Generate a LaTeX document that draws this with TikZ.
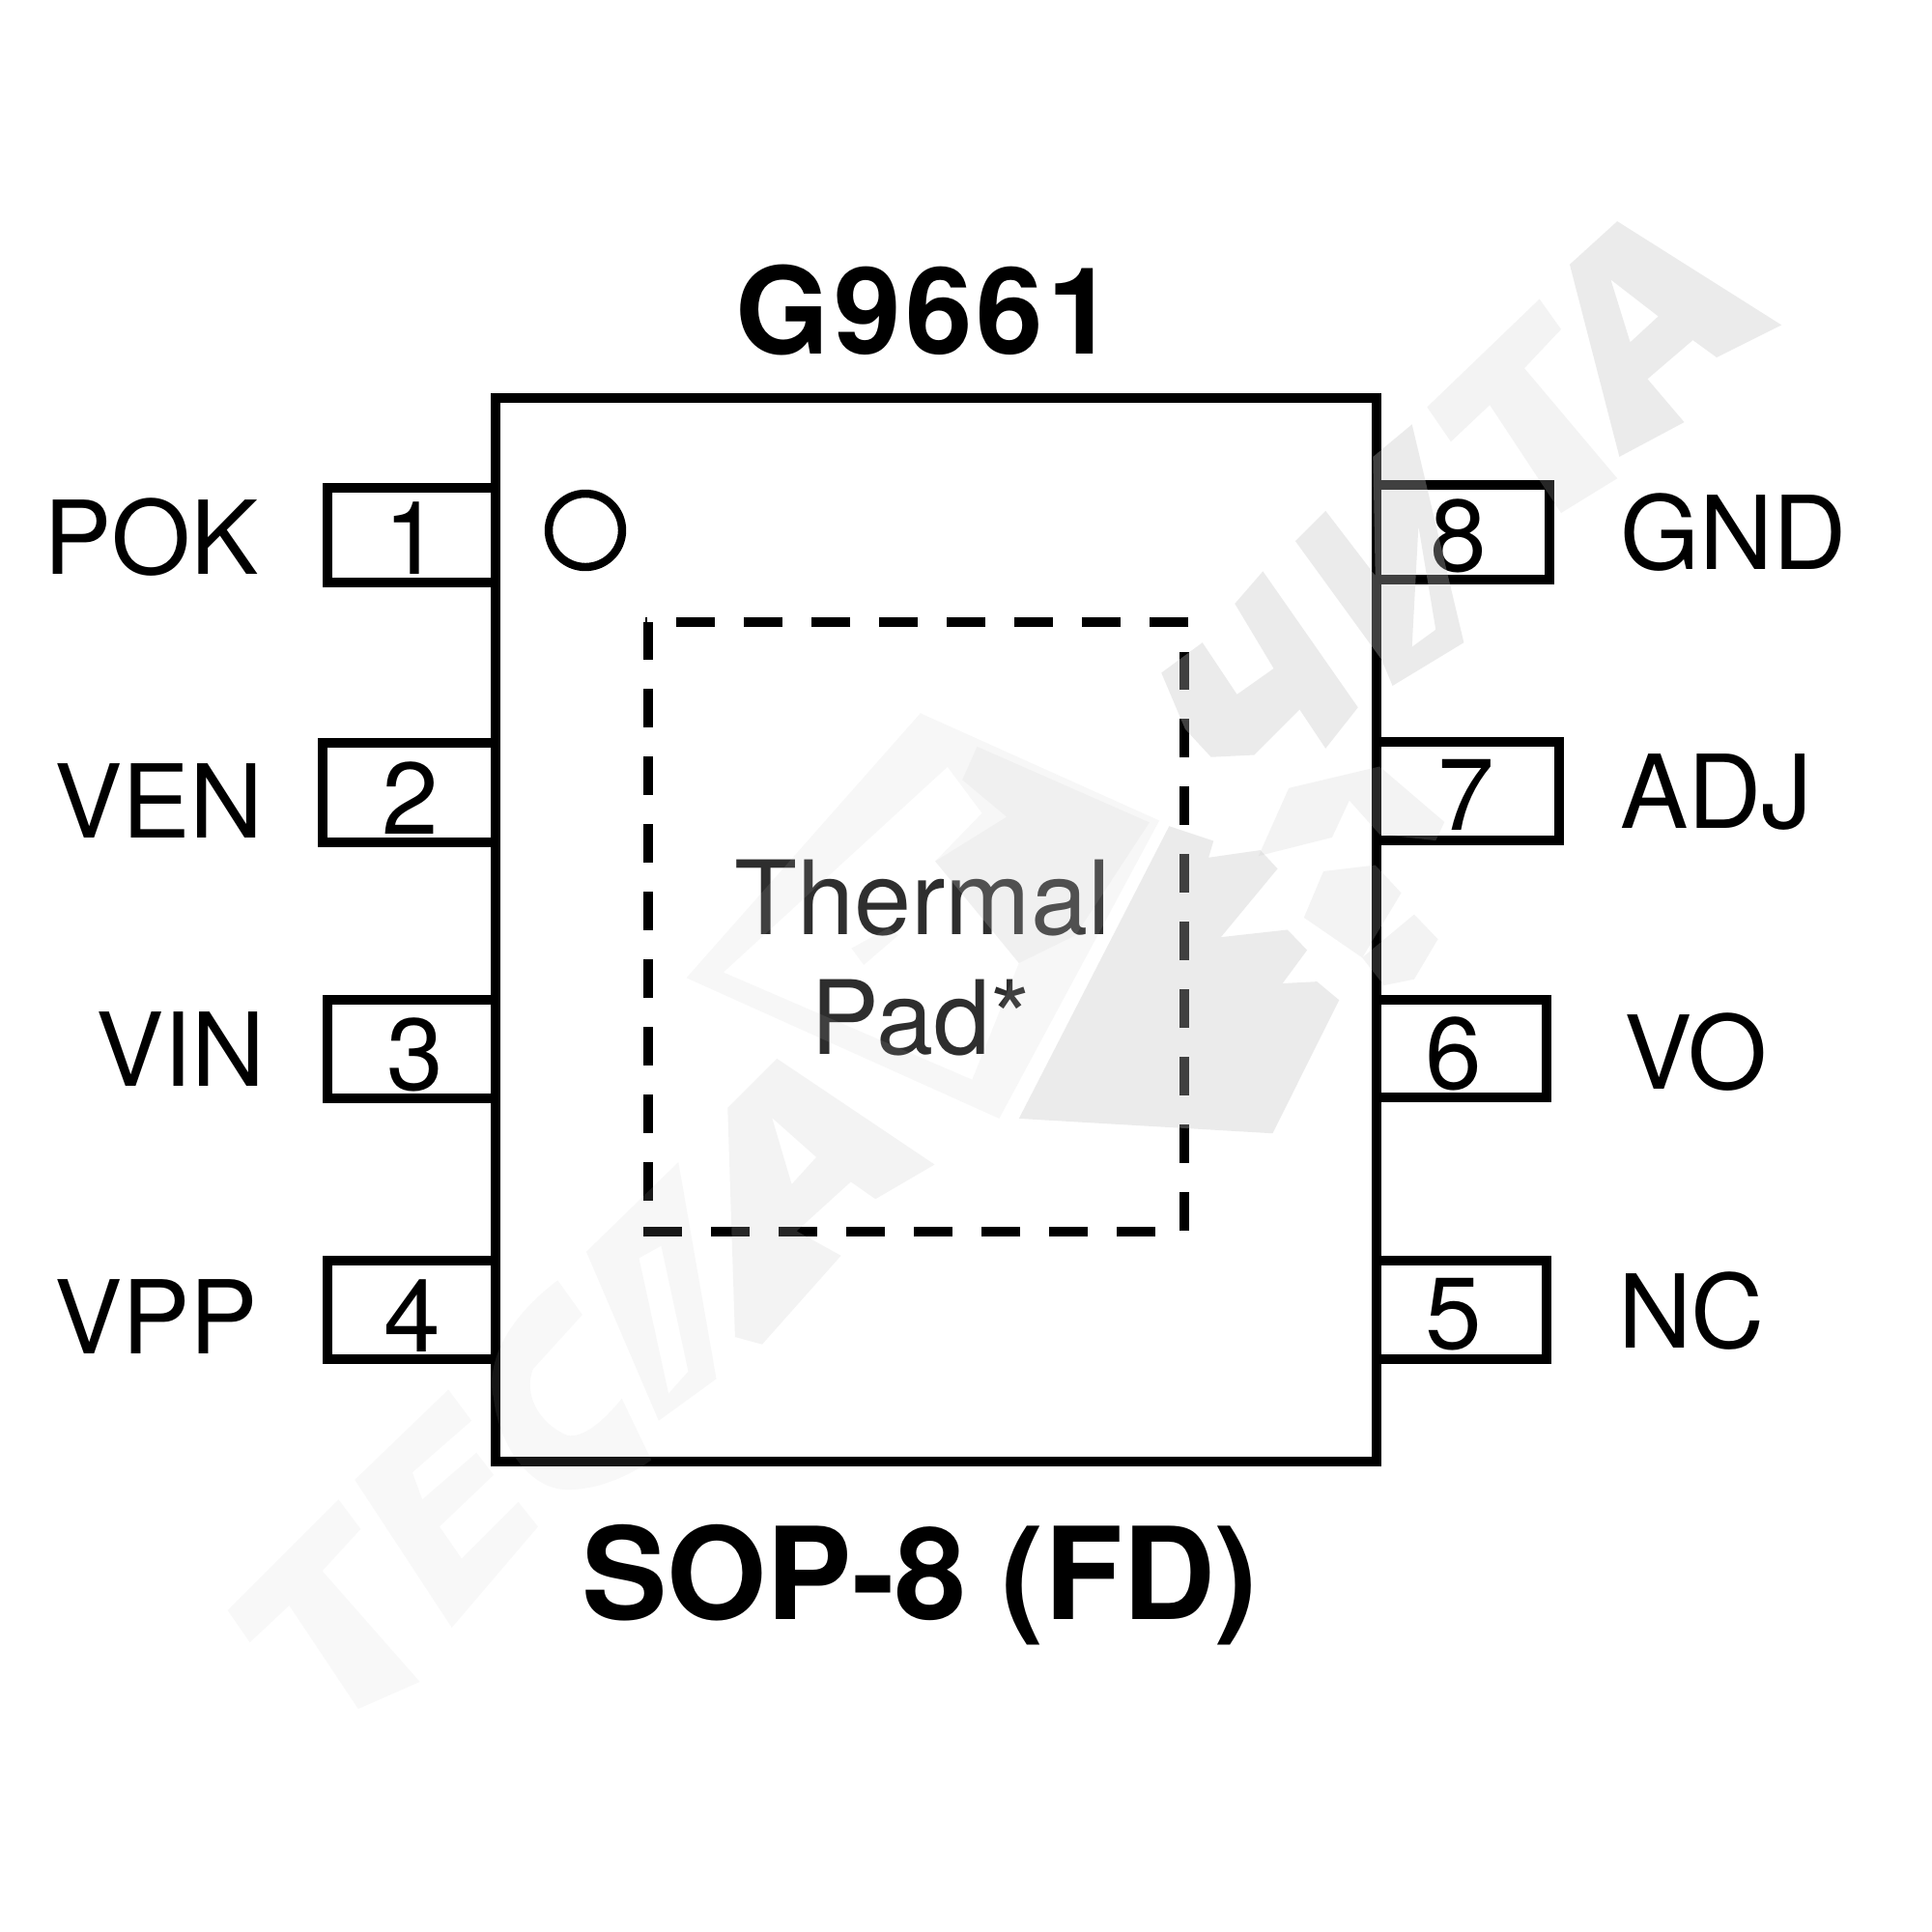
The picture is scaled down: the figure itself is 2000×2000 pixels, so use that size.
\documentclass[tikz,border=0pt]{standalone}
\usepackage{fontspec}
\setmainfont{TeX Gyre Heros}
\tikzset{
  outline/.style={draw=black,line width=2.7pt,fill=white,line join=miter},
  lbl/.style={inner sep=0pt,outer sep=0pt,anchor=base west,font=\fontsize{30}{30}\selectfont},
  lble/.style={lbl,anchor=base east},
  num/.style={inner sep=0pt,outer sep=0pt,anchor=base,font=\fontsize{30}{30}\selectfont},
  pad/.style={inner sep=0pt,outer sep=0pt,anchor=base,text=black!82,font=\fontsize{30.2}{31}\selectfont},
  ttl/.style={inner sep=0pt,outer sep=0pt,anchor=base,font=\fontsize{35.5}{36}\selectfont\bfseries\addfontfeature{LetterSpace=3.5}},
  foot/.style={inner sep=0pt,outer sep=0pt,anchor=base,font=\fontsize{37.7}{38}\selectfont\bfseries},
  padline/.style={line width=2.8pt,dash pattern=on 11.38pt off 8.54pt},
  wm/.style={fill=black!23,fill opacity=.33,even odd rule,draw=none},
  wmf/.style={fill=black!23,fill opacity=.2,even odd rule,draw=none},
  wml/.style={fill=black!23,fill opacity=.12,even odd rule,draw=none},
  wmv/.style={fill=black!23,fill opacity=.11,even odd rule,draw=none},
}
\begin{document}
\begin{tikzpicture}[x=0.01cm,y=-0.01cm]
\useasboundingbox (0,0) rectangle (2000,2000);
\fill[white] (0,0) rectangle (2000,2000);
% pins
\draw[outline] (339,505) rectangle (520,603);
\draw[outline] (334,769) rectangle (520,872);
\draw[outline] (339,1035) rectangle (520,1137);
\draw[outline] (339,1305) rectangle (520,1407);
\draw[outline] (1420,502) rectangle (1604,600);
\draw[outline] (1420,768) rectangle (1614,870);
\draw[outline] (1420,1035) rectangle (1601,1136);
\draw[outline] (1420,1305) rectangle (1601,1407);
% body
\draw[outline] (513,412) rectangle (1425,1513);
\draw[outline,fill=none,line width=2.4pt] (606,549) circle[radius=38];
% thermal pad outline
\draw[padline] (671,1243) -- (671,644);
\draw[padline] (666,1275) -- (1197,1275);
\draw[padline] (1226,1274) -- (1226,675);
\draw[padline] (1230,644) -- (668,644);
% labels
\node[ttl]  (title) at (958,366) {G9661};
\node[foot] (pkg)   at (952,1676) {SOP-8 (FD)};
\node[pad]  (th)    at (955,967) {Thermal};
\node[pad]  (pd)    at (953,1091) {Pad*};
\node[lbl]  (l1) at (45,594) {POK};
\node[lbl]  (l2) at (56,867) {VEN};
\node[lble] (l3) at (275,1124) {VIN};
\node[lbl]  (l4) at (56,1401) {VPP};
\node[lbl]  (l8) at (1677,589) {GND};
\node[lbl]  (l7) at (1677,857) {ADJ};
\node[lbl]  (l6) at (1681,1127) {VO};
\node[lbl]  (l5) at (1675,1395) {NC};
\node[num] (n1) at (427,594) {1};
\node[num] (n2) at (425,863) {2};
\node[num] (n3) at (430,1128) {3};
\node[num] (n4) at (427,1399) {4};
\node[num] (n8) at (1510,591) {8};
\node[num] (n7) at (1518,859) {7};
\node[num] (n6) at (1505,1127) {6};
\node[num] (n5) at (1505,1396) {5};
% watermark, lower-left word
\begin{scope}[shift={(200,1050)},x=0.005102cm,y=-0.005102cm]
\fill[wmv] (70,1210)--(295,985)--(340,1045)--(262,1130)--(460,1355)--(335,1410)--(195,1200)--(115,1275)--cycle;
\fill[wmv] (328,945)--(518,762)--(565,825)--(445,930)--(465,985)--(575,890)--(610,935)--(500,1040)--(545,1105)--(660,990)--(700,1040)--(525,1245)--cycle;
\fill[wmv] (740,540) .. controls (660,600) and (590,690) .. (610,780) .. controls (620,870) and (680,965) .. (760,965) .. controls (820,965) and (880,940) .. (930,905) -- (870,780) .. controls (830,830) and (790,860) .. (760,855) .. controls (700,830) and (670,770) .. (690,720) -- (790,610) -- cycle;
\fill[wml] (798,482)--(985,300)--(1062,740)--(945,825)--cycle (905,495)--(950,470)--(1005,725)--(965,770)--cycle;
\fill[wmf] (1085,190)--(1185,90)--(1505,305)--(1385,375)--(1335,340)--(1225,440)--(1315,490)--(1155,670)--(1100,655)--cycle (1175,210)--(1265,290)--(1215,345)--cycle;
\end{scope}
% watermark, logo
\begin{scope}[shift={(680,700)},x=0.005102cm,y=-0.003827cm]
\fill[wml] (535,100)--(1020,390)--(695,1195)--(60,815)--cycle (590,245)--(660,370)--(565,500)--(735,775)--(640,1090)--(135,800)--cycle;
\fill[wml] (650,190)--(1000,395)--(850,700)--(735,775)--(565,500)--(710,380)--(620,280)--cycle;
\fill[wml] (395,735)--(470,680)--(490,700)--(420,780)--cycle;
\fill[wm] (1040,405)--(1130,445)--(1120,490)--(1225,470)--(1260,520)--(1145,705)--(1280,685)--(1320,740)--(1270,830)--(1340,825)--(1385,875)--(1250,1235)--(735,1195)--cycle;
\end{scope}
\begin{scope}[shift={(1200,200)},x=0.004464cm,y=-0.006378cm]
\fill[wmf] (230,1075)--(300,965)--(510,930)--(660,1020)--(640,1050)--(510,1040)--(440,985)--(400,1045)--cycle;
\fill[wmf] (335,1175)--(380,1100)--(500,1090)--(560,1135)--(470,1240)--cycle;
\fill[wmf] (470,1240)--(590,1170)--(645,1210)--(590,1275)--(520,1285)--cycle;
\end{scope}
% watermark, upper-right word
\begin{scope}[shift={(1200,200)},x=0.004464cm,y=-0.004464cm]
\fill[wm] (5,1110)--(100,1040)--(180,1160)--(265,1100)--(175,950)--(240,875)--(460,1190)--(385,1285)--(325,1195)--(220,1300)--(120,1305)--(60,1240)--cycle;
\fill[wm] (315,805)--(385,735)--(500,885)--(495,610)--(585,535)--(705,1040)--(540,1140)--(515,1080)--cycle (600,770)--(640,1010)--(585,1050)--cycle;
\fill[wmf] (620,495)--(880,245)--(930,315)--(845,405)--(1060,660)--(930,740)--(765,490)--(675,575)--cycle;
\fill[wm] (950,165)--(1060,65)--(1440,305)--(1290,380)--(1235,340)--(1130,430)--(1215,530)--(1065,610)--cycle (1045,200)--(1155,285)--(1090,345)--cycle;
\end{scope}
\end{tikzpicture}
\end{document}
